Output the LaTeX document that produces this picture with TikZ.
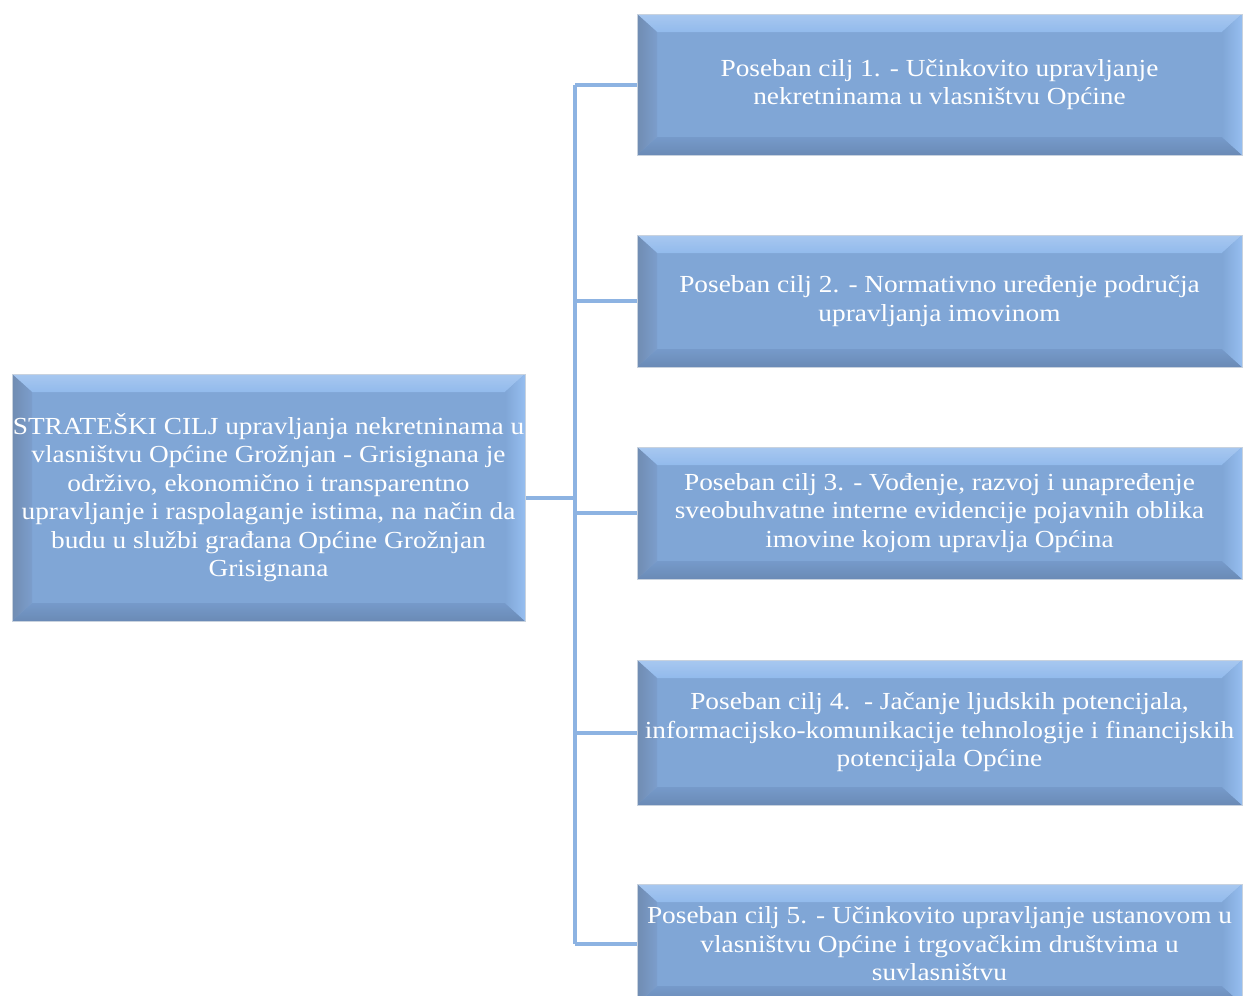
\documentclass[tikz,border=0pt]{standalone}
\usepackage{fontspec}
\setmainfont[FakeStretch=1.115]{Liberation Serif}
\definecolor{boxfill}{RGB}{128,166,214}
\definecolor{bevtop}{RGB}{146,186,236}
\definecolor{bevright}{RGB}{150,190,240}
\definecolor{bevleftout}{RGB}{112,140,178}
\definecolor{bevleftin}{RGB}{124,158,204}
\definecolor{bevbottom}{RGB}{118,154,202}
\definecolor{boxedge}{RGB}{200,210,222}
\definecolor{conncol}{RGB}{141,179,226}
\tikzset{
  bevelbox/.style={draw=boxedge, line width=1pt, fill=boxfill, text=white,
    align=center, inner sep=0pt,
    font=\fontsize{24.5}{28.5}\selectfont,
    path picture={
      \coordinate (nw) at (path picture bounding box.north west);
      \coordinate (ne) at (path picture bounding box.north east);
      \coordinate (sw) at (path picture bounding box.south west);
      \coordinate (se) at (path picture bounding box.south east);
      \shade[top color=bevtop!80!white, bottom color=bevtop] (nw) -- (ne) -- ([shift={(-20pt,-18pt)}]ne) -- ([shift={(20pt,-18pt)}]nw) -- cycle;
      \shade[top color=bevbottom, bottom color=bevbottom!90!black] (sw) -- (se) -- ([shift={(-20pt,18pt)}]se) -- ([shift={(20pt,18pt)}]sw) -- cycle;
      \shade[left color=bevleftout, right color=bevleftin] (nw) -- ([shift={(20pt,-18pt)}]nw) -- ([shift={(20pt,18pt)}]sw) -- (sw) -- cycle;
      \shade[left color=boxfill, right color=bevright] (ne) -- ([shift={(-20pt,-18pt)}]ne) -- ([shift={(-20pt,18pt)}]se) -- (se) -- cycle;
    }},
  conn/.style={draw=conncol, line width=4pt}
}
\begin{document}
\begin{tikzpicture}[x=1pt,y=1pt]
\useasboundingbox (0,0) rectangle (1243,-996);
\clip (0,0) rectangle (1243,-996);
\node[bevelbox, minimum width=513pt, minimum height=247pt] (main) at (268.5,-497.5)
  {STRATEŠKI CILJ upravljanja nekretninama u\\vlasništvu Općine Grožnjan - Grisignana je\\održivo, ekonomično i transparentno\\upravljanje i raspolaganje istima, na način da\\budu u službi građana Općine Grožnjan\\Grisignana};
\node[bevelbox, minimum width=605pt, minimum height=141pt] (b1) at (939.5,-84.5)
  {Poseban cilj 1. - Učinkovito upravljanje\\nekretninama u vlasništvu Općine};
\node[bevelbox, minimum width=605pt, minimum height=132pt] (b2) at (939.5,-301)
  {Poseban cilj 2. - Normativno uređenje područja\\upravljanja imovinom};
\node[bevelbox, minimum width=605pt, minimum height=132pt] (b3) at (939.5,-513)
  {Poseban cilj 3. - Vođenje, razvoj i unapređenje\\sveobuhvatne interne evidencije pojavnih oblika\\imovine kojom upravlja Općina};
\node[bevelbox, minimum width=605pt, minimum height=145pt] (b4) at (939.5,-732.5)
  {Poseban cilj 4.~~- Jačanje ljudskih potencijala,\\informacijsko-komunikacije tehnologije i financijskih\\potencijala Općine};
\node[bevelbox, minimum width=605pt, minimum height=120pt] (b5) at (939.5,-944)
  {Poseban cilj 5. - Učinkovito upravljanje ustanovom u\\vlasništvu Općine i trgovačkim društvima u\\suvlasništvu};
\coordinate (tr) at (575,-497.5);
\draw[conn] (main.east) -- (tr);
\draw[conn] (tr |- b1.west) -- (tr |- b5.west);
\draw[conn] (tr |- b1.west) -- (b1.west);
\draw[conn] (tr |- b2.west) -- (b2.west);
\draw[conn] (tr |- b3.west) -- (b3.west);
\draw[conn] (tr |- b4.west) -- (b4.west);
\draw[conn] (tr |- b5.west) -- (b5.west);
\end{tikzpicture}
\end{document}
